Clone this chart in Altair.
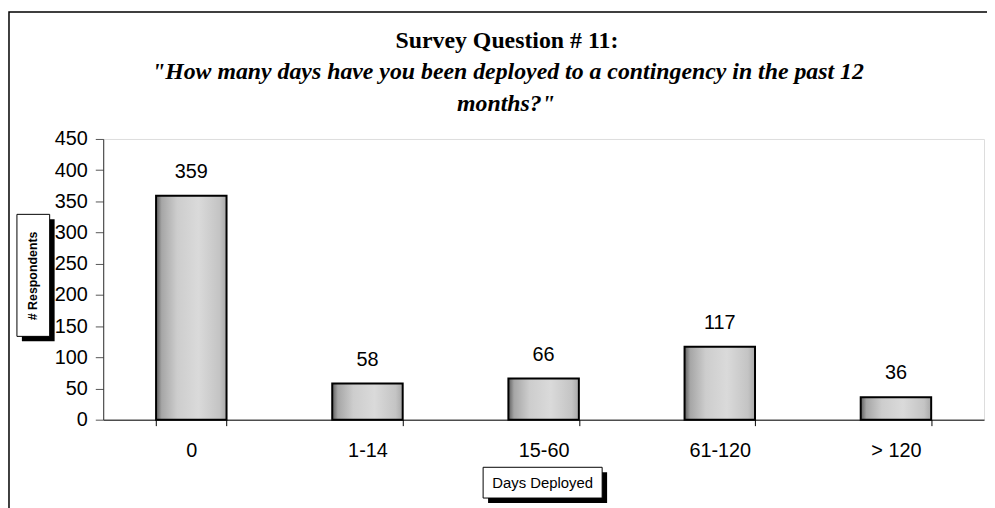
import altair as alt
import pandas as pd

categories = ["0", "1-14", "15-60", "61-120", "> 120"]
respondents = [359, 58, 66, 117, 36]
y_ticks = [0, 50, 100, 150, 200, 250, 300, 350, 400, 450]

title_text = "Survey Question # 11:"
subtitle_lines = ['"How many days have you been deployed to a contingency in the past 12',
                  'months?"']
y_title = "# Respondents"
x_title = "Days Deployed"

df = pd.DataFrame({"cat": categories, "n": respondents})

W, H = 888, 283

x_enc = alt.X("cat:N", sort=categories,
              scale=alt.Scale(paddingInner=0.6, paddingOuter=0.3),
              axis=alt.Axis(title=None, labelAngle=0, tickBand="extent",
                            labelFont="Liberation Sans", labelFontSize=20,
                            labelColor="black", labelPadding=15, tickSize=6,
                            tickColor="black", domainColor="black"))
y_enc = alt.Y("n:Q", scale=alt.Scale(domain=[0, 450], nice=False),
              axis=alt.Axis(title=None, values=y_ticks, grid=False,
                            labelOverlap=False, labelFlush=False,
                            labelFont="Liberation Sans", labelFontSize=20,
                            labelColor="black", labelPadding=8, tickSize=8,
                            tickColor="#555555", domainColor="#333333"))

grad = alt.Gradient(
    gradient="linear", x1=0, x2=1, y1=0, y2=0,
    stops=[alt.GradientStop(color="#5e5e5e", offset=0),
           alt.GradientStop(color="#a6a6a6", offset=0.08),
           alt.GradientStop(color="#cdcdcd", offset=0.3),
           alt.GradientStop(color="#dadada", offset=0.6),
           alt.GradientStop(color="#c4c4c4", offset=0.9),
           alt.GradientStop(color="#a8a8a8", offset=1)])

bars = alt.Chart(df).mark_bar(fill=grad, stroke="black", strokeWidth=2).encode(
    x=x_enc, y=y_enc)

labels = alt.Chart(df).mark_text(font="Liberation Sans", fontSize=20,
                                 color="black", baseline="alphabetic", dy=-18).encode(
    x=x_enc, y=y_enc, text="n:Q")

one = alt.Data(values=[{"k": 1}])

frame = alt.Chart(one).mark_rect(fill=None, stroke="black", strokeWidth=1.5).encode(
    x=alt.value(-95), x2=alt.value(1000), y=alt.value(-128), y2=alt.value(600))

# chart title lines
t1 = alt.Chart(one).mark_text(text=title_text, font="Liberation Serif", fontSize=24,
                              fontWeight="bold", color="black", align="center",
                              baseline="alphabetic").encode(
    x=alt.value(407), y=alt.value(-92))
t2 = alt.Chart(one).mark_text(text=subtitle_lines[0], font="Liberation Serif", fontSize=24,
                              fontWeight="bold", fontStyle="italic", color="black",
                              align="center", baseline="alphabetic").encode(
    x=alt.value(408), y=alt.value(-60))
t3 = alt.Chart(one).mark_text(text=subtitle_lines[1], font="Liberation Serif", fontSize=24,
                              fontWeight="bold", fontStyle="italic", color="black",
                              align="center", baseline="alphabetic").encode(
    x=alt.value(406), y=alt.value(-28))

# y title box
ybox_sh = alt.Chart(one).mark_rect(fill="black").encode(
    x=alt.value(-82), x2=alt.value(-49), y=alt.value(81), y2=alt.value(204))
ybox = alt.Chart(one).mark_rect(fill="white", stroke="black", strokeWidth=1).encode(
    x=alt.value(-87), x2=alt.value(-54), y=alt.value(76), y2=alt.value(199))
ytxt = alt.Chart(one).mark_text(text=y_title, angle=270, font="Liberation Sans",
                                fontSize=12.5, fontWeight="bold", color="black",
                                align="center", baseline="middle").encode(
    x=alt.value(-71), y=alt.value(138))

# x title box
xbox_sh = alt.Chart(one).mark_rect(fill="black").encode(
    x=alt.value(388), x2=alt.value(508), y=alt.value(336), y2=alt.value(367))
xbox = alt.Chart(one).mark_rect(fill="white", stroke="black", strokeWidth=1).encode(
    x=alt.value(383), x2=alt.value(503), y=alt.value(331), y2=alt.value(362))
xtxt = alt.Chart(one).mark_text(text=x_title, font="Liberation Sans", fontSize=15,
                                color="black", align="center", baseline="middle").encode(
    x=alt.value(443), y=alt.value(347))

chart = alt.layer(frame, t1, t2, t3, bars, labels, ybox_sh, ybox, ytxt,
                  xbox_sh, xbox, xtxt).properties(
    width=W, height=H,
    autosize=alt.AutoSizeParams(type="none"),
    padding={"left": 96, "top": 130, "right": 3, "bottom": 87},
).configure_view(stroke="#808080", strokeWidth=1).configure(background="white")

chart.save("out.html", embed_options={"renderer": "svg", "actions": False})
